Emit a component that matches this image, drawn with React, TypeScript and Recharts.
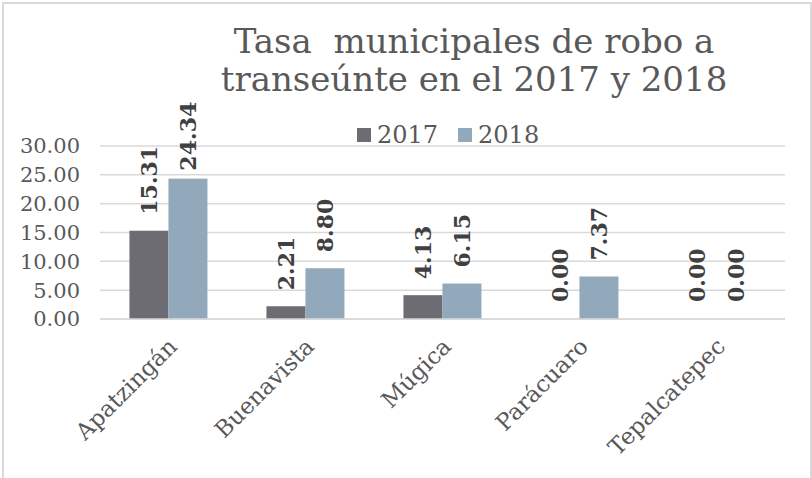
import React from "react";
import {
  BarChart,
  Bar,
  XAxis,
  YAxis,
  CartesianGrid,
  LabelList,
} from "recharts";

const municipios = ["Apatzingán", "Buenavista", "Múgica", "Parácuaro", "Tepalcatepec"];
const tasa2017 = [15.31, 2.21, 4.13, 0.0, 0.0];
const tasa2018 = [24.34, 8.8, 6.15, 7.37, 0.0];
const yTicks = [0, 5, 10, 15, 20, 25, 30];

const data = municipios.map((m, i) => ({
  name: m,
  y2017: tasa2017[i],
  y2018: tasa2018[i],
}));

const FONT = "'DejaVu Serif', 'Liberation Serif', serif";
const DARK = "#6d6c72";
const LIGHT = "#91a9ba";

const VerticalLabel = (props: any) => {
  const { x, y, width, value } = props;
  const cx = x + width / 2;
  // excel nudges the tallest label down so it stays inside the chart
  const gap = y < 200 ? 8 : 16;
  const sy = y - gap;
  return (
    <text
      x={cx}
      y={sy}
      transform={`rotate(-90 ${cx} ${sy})`}
      textAnchor="start"
      dominantBaseline="central"
      fontFamily={FONT}
      fontWeight="bold"
      fontSize={22}
      fill="#404040"
    >
      {Number(value).toFixed(2)}
    </text>
  );
};

// zero bars get minPointSize so their labels still show, but we draw no rect for them
const makeShape = (key: string, color: string) => (props: any) => {
  const { x, y, width, height, payload } = props;
  if (!payload || payload[key] === 0) return <g />;
  return <rect x={x} y={y} width={width} height={height} fill={color} />;
};

const AngledTick = (props: any) => {
  const { x, y, payload } = props;
  const tx = x + 10;
  const ty = y + 21;
  return (
    <text
      x={tx}
      y={ty}
      transform={`rotate(-45 ${tx} ${ty})`}
      textAnchor="end"
      fontFamily={FONT}
      fontSize={23}
      fill="#595959"
    >
      {payload.value}
    </text>
  );
};

const App = () => {
  return (
    <div style={{ position: "absolute", left: 0, top: 0, width: 812, height: 478, background: "#fff", overflow: "hidden" }}>
      <div
        style={{
          position: "absolute",
          left: 2,
          top: 2,
          width: 806,
          height: 490,
          border: "2px solid #d9d9d9",
        }}
      />
      <div
        style={{
          position: "absolute",
          left: 0,
          top: 22,
          width: 948,
          textAlign: "center",
          fontFamily: FONT,
          fontSize: 34,
          lineHeight: "38px",
          color: "#595959",
          whiteSpace: "pre",
        }}
      >
        {"Tasa  municipales de robo a\ntranseúnte en el 2017 y 2018"}
      </div>
      <div
        style={{
          position: "absolute",
          left: 357,
          top: 121,
          display: "flex",
          alignItems: "center",
          fontFamily: FONT,
          fontSize: 24,
          color: "#595959",
        }}
      >
        <span style={{ width: 14, height: 14, background: DARK, marginRight: 6 }} />
        <span style={{ marginRight: 20 }}>2017</span>
        <span style={{ width: 14, height: 14, background: LIGHT, marginRight: 6 }} />
        <span>2018</span>
      </div>
      <BarChart
        width={812}
        height={478}
        data={data}
        margin={{ top: 146, right: 27, left: 0, bottom: 0 }}
        barCategoryGap="21.5%"
        barGap={0}
        style={{ position: "absolute", left: 0, top: 0 }}
      >
        <CartesianGrid vertical={false} stroke="#d9d9d9" strokeWidth={1.5} />
        <XAxis
          dataKey="name"
          height={159}
          interval={0}
          axisLine={{ stroke: "#d9d9d9", strokeWidth: 1.5 }}
          tickLine={false}
          tick={<AngledTick />}
        />
        <YAxis
          width={100}
          domain={[0, 30]}
          ticks={yTicks}
          interval={0}
          axisLine={false}
          tickLine={false}
          tickMargin={14}
          tickFormatter={(v: number) => v.toFixed(2)}
          tick={{ fontFamily: FONT, fontSize: 21, fill: "#595959" }}
        />
        <Bar dataKey="y2017" fill={DARK} minPointSize={1} shape={makeShape("y2017", DARK)} isAnimationActive={false}>
          <LabelList dataKey="y2017" content={<VerticalLabel />} />
        </Bar>
        <Bar dataKey="y2018" fill={LIGHT} minPointSize={1} shape={makeShape("y2018", LIGHT)} isAnimationActive={false}>
          <LabelList dataKey="y2018" content={<VerticalLabel />} />
        </Bar>
      </BarChart>
    </div>
  );
};

export default App;
